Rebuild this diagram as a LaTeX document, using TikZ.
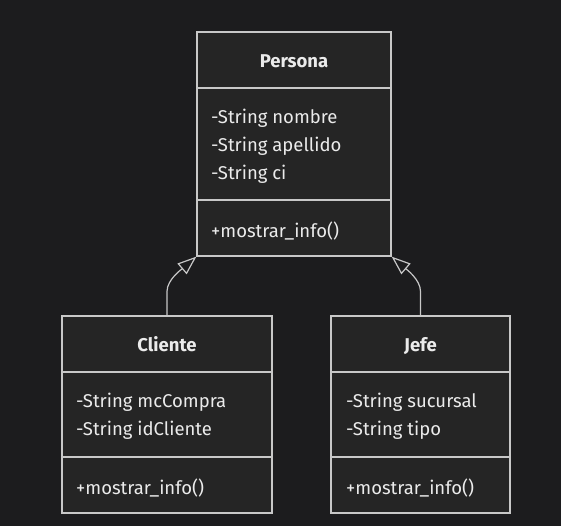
\documentclass[tikz,border=0pt]{standalone}
\usepackage{fontspec}
\setmainfont{Fira Sans}
\usetikzlibrary{arrows.meta}
\definecolor{bg}{RGB}{28,28,30}
\definecolor{boxfill}{RGB}{37,37,37}
\definecolor{edge}{RGB}{200,200,200}
\definecolor{txt}{RGB}{235,235,235}
\tikzset{
  classbox/.style={draw=edge, fill=boxfill, line width=1.2pt, inner sep=0pt},
  divider/.style={draw=edge, line width=1.2pt},
  title/.style={text=txt, font=\fontsize{18.5}{22}\selectfont\bfseries, inner sep=0pt, anchor=base},
  member/.style={text=txt, font=\fontsize{18.5}{22}\selectfont, anchor=base west, inner sep=0pt},
  inh/.style={draw=edge, line width=1.2pt, -{Triangle[open, length=19pt, width=14pt]}}
}
\begin{document}
\begin{tikzpicture}[x=1pt, y=-1pt]
\fill[bg] (0,0) rectangle (561,526);
\useasboundingbox (0,0) rectangle (561,526);
% Persona
\node[classbox, minimum width=194pt, minimum height=224pt] (persona) at (294,144) {};
\draw[divider] (197,88) -- (391,88);
\draw[divider] (197,200) -- (391,200);
\node[title] (pt) at (294,67.5) {Persona};
\node[member] (p1) at (211,123.5) {-String nombre};
\node[member] (p2) at (211,151.5) {-String apellido};
\node[member] (p3) at (211,179.5) {-String ci};
\node[member] (p4) at (211,237.5) {+mostrar\_info()};
% Cliente
\node[classbox, minimum width=210pt, minimum height=197pt] (cliente) at (167,414.5) {};
\draw[divider] (62,372) -- (272,372);
\draw[divider] (62,457) -- (272,457);
\node[title] (ct) at (167,351.5) {Cliente};
\node[member] (c1) at (76,407.5) {-String mcCompra};
\node[member] (c2) at (76,435.5) {-String idCliente};
\node[member] (c3) at (76,494.5) {+mostrar\_info()};
% Jefe
\node[classbox, minimum width=179pt, minimum height=197pt] (jefe) at (420.5,414.5) {};
\draw[divider] (331,372) -- (510,372);
\draw[divider] (331,457) -- (510,457);
\node[title] (jt) at (420.5,351.5) {Jefe};
\node[member] (j1) at (346,407.5) {-String sucursal};
\node[member] (j2) at (346,435.5) {-String tipo};
\node[member] (j3) at (346,494.5) {+mostrar\_info()};
% Inheritance
\draw[inh] (cliente.north) -- ++(0,-24) .. controls +(0,-12) and +(-14,12) .. (persona.south west);
\draw[inh] (jefe.north) -- ++(0,-24) .. controls +(0,-12) and +(14,12) .. (persona.south east);
\end{tikzpicture}
\end{document}
